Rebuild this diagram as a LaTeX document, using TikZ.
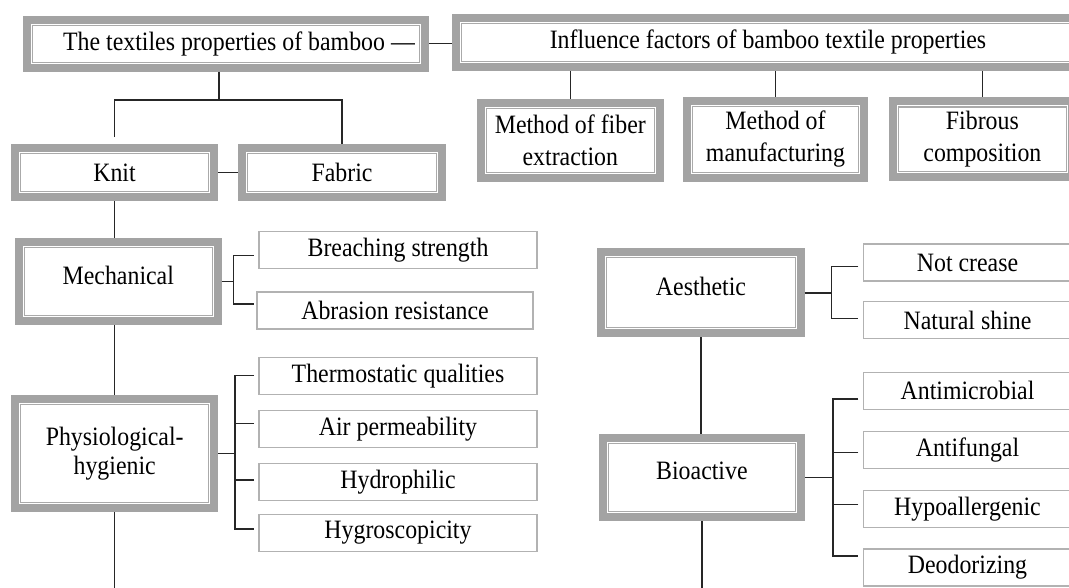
\documentclass[tikz,border=0pt]{standalone}
\usepackage{fontspec}
\setmainfont{Liberation Serif}[FakeStretch=0.9]
\usepackage{tikz}
\usetikzlibrary{fit}
\definecolor{boxgray}{RGB}{163,163,163}
\definecolor{linegray}{RGB}{170,170,170}
\definecolor{leafgray}{RGB}{178,178,178}
\tikzset{
	inbox/.style={draw=linegray,line width=1.2pt,fill=white,inner sep=0pt,outer sep=0pt,align=center},
	frame/.style={draw=boxgray,line width=8pt,inner sep=5.5pt,outer sep=4pt},
	leaf/.style={draw=leafgray,line width=1.3pt,fill=white,inner sep=0pt,minimum height=37pt},
	link/.style={line width=1.4pt,black!85}
}

\begin{document}
\begin{tikzpicture}[x=1pt,y=-1pt,font=\fontsize{26.5}{32}\selectfont]
			\useasboundingbox (0,0) rectangle (1069,587);
			\clip (0,0) rectangle (1069,587);
				\node[inbox,minimum width=386.7pt,minimum height=37pt] (top) at (226,43.7) {\hspace*{26pt}The textiles properties of bamboo —};
				\node[inbox,minimum width=613.6pt,minimum height=37.7pt] (infl) at (768,42.4) {Influence factors of bamboo textile properties};
				\node[inbox,minimum width=168.3pt,minimum height=63.7pt] (fiber) at (570.3,140.3) {Method of fiber\\extraction};
				\node[inbox,minimum width=166pt,minimum height=65.7pt] (manuf) at (775.5,139.3) {Method of\\manufacturing};
				\node[inbox,minimum width=167.8pt,minimum height=64.7pt] (fibrous) at (982.4,139.3) {Fibrous\\composition};
				\node[inbox,minimum width=188pt,minimum height=38pt] (knit) at (114.5,172.5) {Knit};
				\node[inbox,minimum width=189pt,minimum height=38pt] (fabric) at (342,172.5) {Fabric};
				\node[inbox,minimum width=187.7pt,minimum height=67.7pt,text depth=13pt] (mech) at (118.3,281.7) {Mechanical};
				\node[inbox,minimum width=188.3pt,minimum height=98.3pt] (phys) at (114.7,453.7) {Physiological-\\[-3pt]hygienic};
				\node[inbox,minimum width=188.4pt,minimum height=70pt,text depth=13pt] (aesth) at (701,292.8) {Aesthetic};
				\node[inbox,minimum width=186.7pt,minimum height=67.7pt,text depth=13pt] (bio) at (701.9,477.7) {Bioactive};
				\foreach \n in {top,infl,fiber,manuf,fibrous,knit,fabric,mech,phys,aesth,bio}
					\node[frame,fit=(\n)] (\n-f) {};
				\node[leaf,minimum width=278pt] (brea) at (398,250.3) {Breaching strength};
				\node[leaf,minimum width=276pt] (abra) at (395,310.5) {Abrasion resistance};
				\node[leaf,minimum width=278pt] (thermo) at (398,375.7) {Thermostatic qualities};
				\node[leaf,minimum width=278pt] (air) at (398,428.7) {Air permeability};
				\node[leaf,minimum width=278pt] (hydro) at (398,481.7) {Hydrophilic};
				\node[leaf,minimum width=278pt] (hygro) at (398,533) {Hygroscopicity};
				\node[leaf,minimum width=208.4pt] (crease) at (967.5,262.5) {Not crease};
				\node[leaf,minimum width=208.4pt] (shine) at (967.5,320) {Natural shine};
				\node[leaf,minimum width=208.4pt] (antimic) at (967.5,390.8) {Antimicrobial};
				\node[leaf,minimum width=208.4pt] (antifun) at (967.5,450.3) {Antifungal};
				\node[leaf,minimum width=208.4pt] (hypo) at (967.5,508.8) {Hypoallergenic};
				\node[leaf,minimum width=208.4pt] (deodor) at (967.5,567.5) {Deodorizing};
				\draw[link] (top-f.east) -- (top-f.east -| infl-f.west);
				\foreach \n in {fiber,manuf,fibrous}
					\draw[link] (infl-f.south -| \n-f.north) -- (\n-f.north);
				\coordinate (split) at (219,100);
				\draw[link] (top-f.south -| split) -- (split);
				\draw[link] ([yshift=7pt]knit-f.north) |- (split) -| (fabric-f.north);
				\draw[link] (knit-f.east) -- (fabric-f.west);
				\draw[link] (knit-f.south) -- (knit-f.south |- mech-f.north);
				\draw[link] (phys-f.north |- mech-f.south) -- (phys-f.north);
				\draw[link] (phys-f.south) -- ++(0,80);
				\draw[link] (aesth-f.south) -- (aesth-f.south |- bio-f.north);
				\draw[link] (bio-f.south) -- ++(0,80);
				\draw[link] (mech-f.east) -- ++(11.6,0) coordinate (mb);
				\draw[link] ([xshift=-4.7pt,yshift=-5.4pt]brea.west) -| (mb) |- ([xshift=-2.7pt,yshift=6.5pt]abra.west);
				\draw[link] (phys-f.east) -- ++(16.7,0) coordinate (pb);
				\draw[link] ([xshift=-4.3pt]thermo.west) -| (pb) |- ([xshift=-4.3pt,yshift=4pt]hygro.west);
				\foreach \l/\s in {air/5.4,hydro/1.7}
					\draw[link] ([xshift=-4.3pt,yshift=\s pt]\l.west) coordinate (t) -- (t -| pb);
				\draw[link] (aesth-f.east) -- ++(26.6,0) coordinate (ab);
				\draw[link] ([xshift=-4.3pt,yshift=-4.2pt]crease.west) -| (ab) |- ([xshift=-4.3pt,yshift=1.7pt]shine.west);
				\draw[link] (bio-f.east) -- ++(28.3,0) coordinate (bb);
				\draw[link] ([xshift=-4.3pt,yshift=-8.2pt]antimic.west) -| (bb) |- ([xshift=-4.3pt,yshift=11.5pt]deodor.west);
				\foreach \l/\s in {antifun/-2.4,hypo/4.5}
					\draw[link] ([xshift=-4.3pt,yshift=\s pt]\l.west) coordinate (t) -- (t -| bb);
\end{tikzpicture}
\end{document}
